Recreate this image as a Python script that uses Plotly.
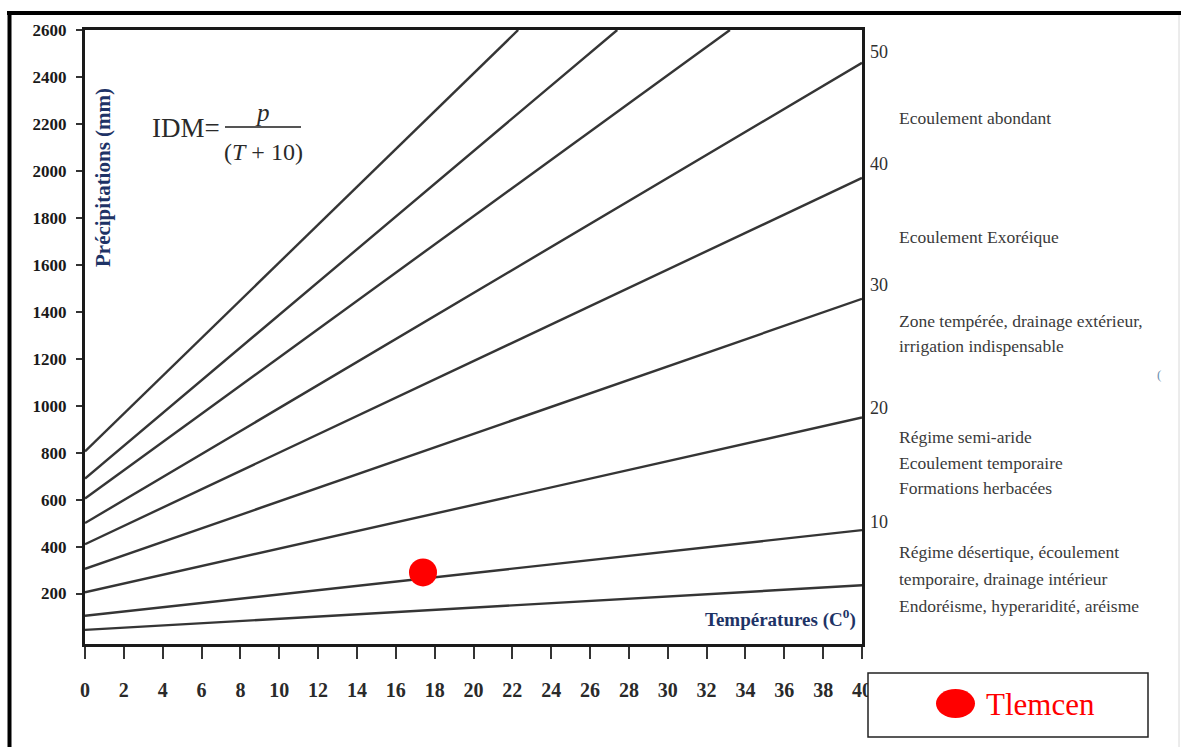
import plotly.graph_objects as go

# De Martonne aridity index lines: P = IDM * (T + 10)
idm_values = [5, 10, 20, 30, 40, 50, 60, 70, 80]
p_start = [45, 105, 205, 305, 410, 500, 605, 690, 805]        # precipitation at T = 0
t_end = [40, 40, 40, 40, 40, 40, 33.2, 27.4, 22.3]           # temperature where each line ends
p_end = [235, 470, 950, 1455, 1970, 2460, 2600, 2600, 2600]   # precipitation where each line ends

# index values written on the right-hand side
right_labels = ["10", "20", "30", "40", "50"]
right_label_p = [505, 990, 1515, 2030, 2505]

# climate regimes between index lines
regime_lines = [
    ("Ecoulement abondant", 118),
    ("Ecoulement Exoréique", 237),
    ("Zone tempérée, drainage extérieur,", 321),
    ("irrigation indispensable", 346),
    ("Régime semi-aride", 437),
    ("Ecoulement temporaire", 463),
    ("Formations herbacées", 488),
    ("Régime désertique, écoulement", 552),
    ("temporaire, drainage intérieur", 579),
    ("Endoréisme, hyperaridité, aréisme", 606),
]

# station
station_name = "Tlemcen"
station_t = [17.4]
station_p = [290]

x_ticks = list(range(0, 41, 2))
y_ticks = list(range(200, 2601, 200))

W, H = 1181, 747
ML, MR, MT, MB = 85, 319, 30, 103
PW, PH = W - ML - MR, H - MT - MB


def px(x):
    return (x - ML) / PW


def py(y):
    return (H - MB - y) / PH


SERIF = "Liberation Serif, Times New Roman, serif"
NAVY = "#1e3366"

fig = go.Figure()

for k, idm in enumerate(idm_values):
    fig.add_trace(go.Scatter(
        x=[0, t_end[k]], y=[p_start[k], p_end[k]],
        mode="lines", line=dict(color="#353535", width=2.4),
        name=f"IDM {idm}", showlegend=False, hoverinfo="skip",
    ))

fig.add_trace(go.Scatter(
    x=station_t, y=station_p, mode="markers",
    marker=dict(color="#ff0000", size=28, symbol="circle"),
    name=station_name, showlegend=False,
))

annotations = []

# index values to the right of the plot
for lab, p in zip(right_labels, right_label_p):
    annotations.append(dict(
        x=40, y=p, xref="x", yref="y", text=lab, showarrow=False,
        xanchor="left", yanchor="middle", xshift=6,
        font=dict(family=SERIF, size=18, color="#303030"),
    ))

for txt, y in regime_lines:
    annotations.append(dict(
        x=px(897), y=py(y), xref="paper", yref="paper", text=txt,
        showarrow=False, xanchor="left", yanchor="middle",
        font=dict(family=SERIF, size=17.5, color="#3a3a3a"),
    ))

annotations.append(dict(
    x=px(1163), y=py(374), xref="paper", yref="paper", text="(",
    showarrow=False, font=dict(family=SERIF, size=13, color="#6a8fb0"),
))

# axis titles placed inside the frame
annotations.append(dict(
    x=px(103), y=py(178), xref="paper", yref="paper",
    text="<b>Précipitations (mm)</b>", textangle=-90, showarrow=False,
    xanchor="center", yanchor="middle",
    font=dict(family=SERIF, size=21, color=NAVY),
))
annotations.append(dict(
    x=px(858), y=py(618), xref="paper", yref="paper",
    text="<b>Températures (C<sup>0</sup>)</b>", showarrow=False,
    xanchor="right", yanchor="middle",
    font=dict(family=SERIF, size=19, color=NAVY),
))

# formula
annotations.append(dict(
    x=px(222), y=py(128), xref="paper", yref="paper", text="IDM=",
    showarrow=False, xanchor="right", yanchor="middle",
    font=dict(family=SERIF, size=27, color="#2a2a2a"),
))
annotations.append(dict(
    x=px(262), y=py(113), xref="paper", yref="paper", text="<i>p</i>",
    showarrow=False, xanchor="center", yanchor="middle",
    font=dict(family=SERIF, size=25, color="#2a2a2a"),
))
annotations.append(dict(
    x=px(263), y=py(152), xref="paper", yref="paper", text="(<i>T</i> + 10)",
    showarrow=False, xanchor="center", yanchor="middle",
    font=dict(family=SERIF, size=24, color="#2a2a2a"),
))

# legend text
annotations.append(dict(
    x=px(984), y=py(704), xref="paper", yref="paper", text=station_name,
    showarrow=False, xanchor="left", yanchor="middle",
    font=dict(family=SERIF, size=31, color="#ff0000"),
))

shapes = [
    # fraction bar
    dict(type="line", xref="paper", yref="paper", x0=px(225), x1=px(301),
         y0=py(127), y1=py(127), line=dict(color="#555555", width=2)),
    # outer page frame
    dict(type="line", xref="paper", yref="paper", x0=px(7), x1=px(1181),
         y0=py(13), y1=py(13), line=dict(color="#000000", width=4)),
    dict(type="line", xref="paper", yref="paper", x0=px(9.5), x1=px(9.5),
         y0=py(11), y1=py(747), line=dict(color="#000000", width=4)),
    dict(type="line", xref="paper", yref="paper", x0=px(1179), x1=px(1179),
         y0=py(15), y1=py(747), line=dict(color="#d8d8d8", width=1)),
    # legend box
    dict(type="rect", xref="paper", yref="paper", x0=px(868), x1=px(1148),
         y0=py(673), y1=py(737), line=dict(color="#222222", width=1.5),
         fillcolor="white"),
    dict(type="circle", xref="paper", yref="paper", x0=px(936), x1=px(975),
         y0=py(689), y1=py(718), line=dict(width=0), fillcolor="#ff0000"),
]

fig.update_layout(
    width=W, height=H,
    margin=dict(l=ML, r=MR, t=MT, b=MB),
    paper_bgcolor="white", plot_bgcolor="white",
    showlegend=False,
    annotations=annotations, shapes=shapes,
    xaxis=dict(
        range=[0, 40], tickvals=x_ticks, ticktext=[str(v) for v in x_ticks],
        showgrid=False, zeroline=False,
        showline=True, linecolor="#1a1a1a", linewidth=3, mirror=True,
        ticks="outside", ticklen=12, tickwidth=2, tickcolor="#333333",
        ticklabelstandoff=14,
        tickfont=dict(family=SERIF, size=20, color="#2a2a2a", weight="bold"),
    ),
    yaxis=dict(
        range=[-15, 2600], tickvals=y_ticks, ticktext=[str(v) for v in y_ticks],
        showgrid=False, zeroline=False,
        showline=True, linecolor="#1a1a1a", linewidth=3, mirror=True,
        ticks="outside", ticklen=6, tickwidth=2, tickcolor="#333333",
        ticklabelstandoff=6,
        tickfont=dict(family=SERIF, size=17, color="#1a1a1a", weight="bold"),
    ),
)

fig.write_html("out.html")
